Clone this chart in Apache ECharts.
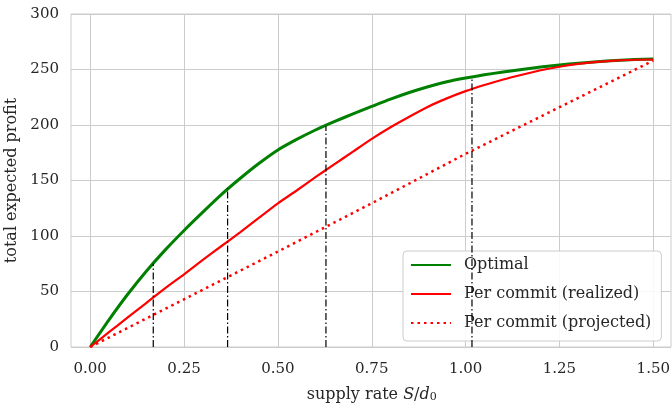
<!DOCTYPE html>
<html><head><meta charset="utf-8">
<script src="https://cdn.jsdelivr.net/npm/echarts@6/dist/echarts.min.js"></script>
<style>html,body{margin:0;padding:0;background:#fff}#c{width:672px;height:404px}</style>
</head><body><div id="c"></div>
<script>
const xs = [0,0.05,0.10,0.15,0.20,0.25,0.30,0.35,0.40,0.45,0.50,0.55,0.60,0.65,0.70,0.75,0.80,0.85,0.90,0.95,1.00,1.05,1.10,1.15,1.20,1.25,1.30,1.35,1.40,1.45,1.50];
const optimal = [0,24.5,47.5,68.5,87.5,105,121.5,137.5,152,165.5,177.5,187,195.5,203,210,216.7,223.3,229.3,234.5,238.9,242.3,245.2,247.8,250.1,252.2,254.1,255.7,257,258.1,258.9,259.5];
const realized = [0,13.3,26.6,39.8,53,65.5,78.5,91,103.5,116.5,129.4,141,153,164.5,176,187.5,198,207.5,216.5,224,230.5,236,241,245.3,249.3,252.5,255,256.8,258,258.8,259];
const projX = [0,0.25,0.5,0.75,1.0,1.25,1.5];
const projected = [0,43,86,129.5,174,216,258];
const vx = [0.168,0.366,0.628,1.017];
const vtop = [75,143,199,243.5];

const font = 'DejaVu Serif';
const txt = '#262626';
const pairs = (a,b)=>a.map((v,i)=>[v,b[i]]);
const vdata = [];
vx.forEach((x,i)=>{ vdata.push([x,0]); vdata.push([x,vtop[i]]); vdata.push('-'); });

const chart = echarts.init(document.getElementById('c'));
chart.setOption({
  animation:false,
  grid:[
    {left:71, top:14, width:600, height:333, show:true, borderColor:'#cccccc', borderWidth:1, backgroundColor:'transparent', outerBoundsMode:'none', containLabel:false},
    {left:90.2, top:14, width:563.1, height:333, outerBoundsMode:'none', containLabel:false}
  ],
  xAxis:[
    {gridIndex:0, type:'value', min:0, max:1, show:false},
    {gridIndex:1, type:'value', min:0, max:1.5, interval:0.25,
     axisLine:{show:false}, axisTick:{show:false},
     splitLine:{show:true, lineStyle:{color:'#cccccc', width:1}},
     axisLabel:{margin:15, fontFamily:font, fontSize:15, color:txt, formatter:v=>v.toFixed(2)},
     name:'{n|supply rate }{i|S}{n|/}{i|d}{s|0}', nameLocation:'middle', nameGap:39,
     nameTextStyle:{rich:{n:{fontFamily:font,fontSize:16,color:txt},i:{fontFamily:font,fontSize:16,fontStyle:'italic',color:txt},s:{fontFamily:font,fontSize:11,color:txt,verticalAlign:'bottom',padding:[6,0,0,0]}}}}
  ],
  yAxis:[
    {gridIndex:0, type:'value', min:0, max:300, interval:50,
     axisLine:{show:false}, axisTick:{show:false},
     splitLine:{show:true, lineStyle:{color:'#cccccc', width:1}},
     axisLabel:{margin:12, fontFamily:font, fontSize:15, color:txt},
     name:'total expected profit', nameLocation:'middle', nameGap:46,
     nameTextStyle:{fontFamily:font, fontSize:16, color:txt}},
    {gridIndex:1, type:'value', min:0, max:300, show:false}
  ],
  legend:{
    data:['Optimal','Per commit (realized)','Per commit (projected)'],
    orient:'vertical', left:403, top:251,
    padding:[6,10,10,7], itemGap:13, itemWidth:40, itemHeight:14,
    itemStyle:{opacity:0},
    backgroundColor:'rgba(255,255,255,0.85)', borderColor:'#cccccc', borderWidth:1, borderRadius:4,
    textStyle:{fontFamily:font, fontSize:16, color:txt, padding:[0,0,0,8]}
  },
  series:[
    {name:'Per commit (projected)', type:'line', xAxisIndex:1, yAxisIndex:1, data:pairs(projX,projected), symbol:'none', clip:false,
     lineStyle:{color:'#ff0000', width:2.5, type:[2.5,4], cap:'butt'}, itemStyle:{color:'#ff0000'}, z:3},
    {name:'Per commit (realized)', type:'line', xAxisIndex:1, yAxisIndex:1, data:pairs(xs,realized), symbol:'none', clip:false, smooth:0.2,
     lineStyle:{color:'#ff0000', width:2.2}, itemStyle:{color:'#ff0000'}, z:4},
    {name:'Optimal', type:'line', xAxisIndex:1, yAxisIndex:1, data:pairs(xs,optimal), symbol:'none', clip:false, smooth:0.2,
     lineStyle:{color:'#008000', width:3}, itemStyle:{color:'#008000'}, z:2},
    {name:'vlines', type:'line', xAxisIndex:1, yAxisIndex:1, data:vdata, symbol:'none', connectNulls:false, clip:false,
     lineStyle:{color:'#000000', width:1.2, type:[7,2.5,1.5,2.5]}, z:5}
  ]
});
</script></body></html>
